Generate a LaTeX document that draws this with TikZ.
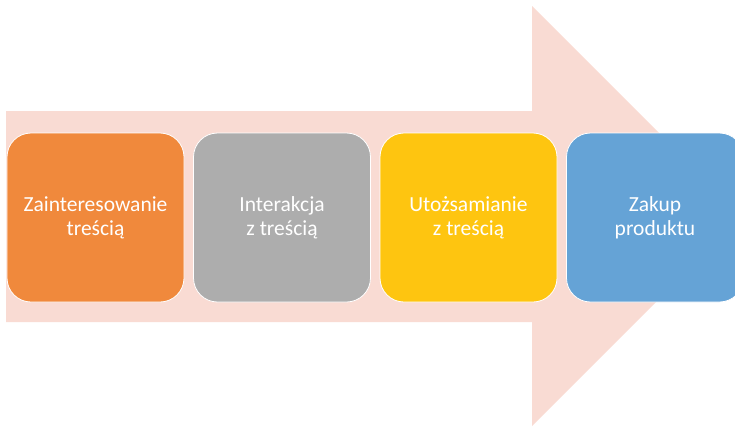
\documentclass[tikz,border=0pt]{standalone}
\usepackage{fontspec}
\setmainfont{Carlito}
\usepackage{xcolor}
\usetikzlibrary{positioning, calc}

\definecolor{arrowpink}{RGB}{249,219,211}
\definecolor{stageorange}{RGB}{240,137,60}
\definecolor{stagegray}{RGB}{173,173,173}
\definecolor{stageyellow}{RGB}{254,197,16}
\definecolor{stageblue}{RGB}{101,163,214}

\begin{document}
\begin{tikzpicture}[x=1pt, y=-1pt,
  stage/.style={draw=white, line width=0.8pt, rounded corners=24pt,
    minimum width=177pt, minimum height=169pt, inner sep=0pt,
    text=white, align=center, font=\fontsize{21.5}{24}\selectfont}]
  \useasboundingbox (0,0) rectangle (735,426);

  % Big background arrow (its tip lies past the right edge)
  \begin{scope}
    \clip (0,0) rectangle (735,426);
    \fill[arrowpink] (6,111) -- (532,111) -- (532,6) -- (742,216)
      -- (532,426) -- (532,322) -- (6,322) -- cycle;
  \end{scope}

  % Stages
  \node[stage, fill=stageorange] (interest) at (95.5,217.5) {Zainteresowanie\\treścią};
  \node[stage, fill=stagegray, right=8.7pt of interest] (interact) {Interakcja\\z treścią};
  \node[stage, fill=stageyellow, right=8.7pt of interact] (identify) {Utożsamianie\\z treścią};
  \node[stage, fill=stageblue, right=8.7pt of identify] (purchase) {Zakup\\produktu};
\end{tikzpicture}
\end{document}
